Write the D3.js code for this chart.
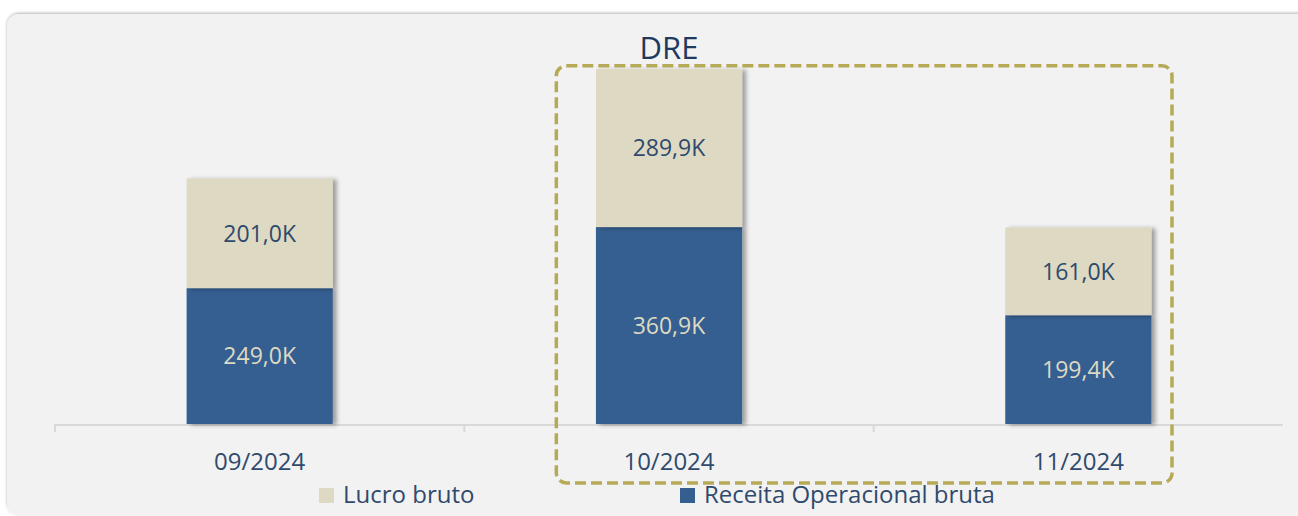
<!DOCTYPE html>
<html>
<head>
<meta charset="utf-8">
<script src="https://cdn.jsdelivr.net/npm/d3@7"></script>
<style>
  html, body { margin: 0; padding: 0; background: #ffffff; }
  svg { display: block; font-family: 'Open Sans', sans-serif; }
</style>
</head>
<body>
<svg id="chart" width="1298" height="516"></svg>
<script>
// Chart data
const categories = ['09/2024', '10/2024', '11/2024'];
const receitaBruta = [249.0, 360.9, 199.4];
const lucroBruto = [201.0, 289.9, 161.0];
const seriesNames = ['Lucro bruto', 'Receita Operacional bruta'];
const highlighted = ['10/2024', '11/2024'];

const color = {
  panel: '#f2f2f2',
  blue: '#365f91',
  tan: '#ddd9c3',
  text: '#2f4a6d',
  title: '#1f3a60',
  axis: '#d9d9d9',
  dash: '#b6a957'
};

const width = 1298;
const height = 516;
const plot = { left: 55, right: 1283, top: 42, bottom: 424 };

const svg = d3.select('#chart');
const defs = svg.append('defs');

// Soft shadow on the right of each bar
defs.append('filter')
  .attr('id', 'barShadow')
  .attr('x', '-10%').attr('y', '-10%').attr('width', '130%').attr('height', '120%')
  .append('feDropShadow')
  .attr('dx', 4).attr('dy', 1).attr('stdDeviation', 2.2)
  .attr('flood-color', '#000').attr('flood-opacity', 0.35);

defs.append('filter')
  .attr('id', 'panelShadow')
  .attr('x', '-5%').attr('y', '-5%').attr('width', '110%').attr('height', '110%')
  .append('feDropShadow')
  .attr('dx', 0).attr('dy', -1).attr('stdDeviation', 1.5)
  .attr('flood-color', '#000').attr('flood-opacity', 0.3);

// Background panel
svg.append('rect')
  .attr('x', 7).attr('y', 14)
  .attr('width', width + 20).attr('height', height - 15)
  .attr('rx', 12)
  .attr('fill', color.panel)
  .attr('filter', 'url(#panelShadow)');

const x = d3.scaleBand()
  .domain(categories)
  .range([plot.left, plot.right]);

const barWidth = x.bandwidth() * 0.357;

const y = d3.scaleLinear()
  .domain([0, 700])
  .range([plot.bottom, plot.top]);

const locale = d3.formatLocale({ decimal: ',', thousands: '.', grouping: [3], currency: ['R$', ''] });
const fmt = d => locale.format('.1f')(d) + 'K';

// Stack: receita at the bottom, lucro on top
const rows = categories.map((c, i) => ({ cat: c, receita: receitaBruta[i], lucro: lucroBruto[i] }));
const stack = d3.stack().keys(['receita', 'lucro'])(rows);
const fills = { receita: color.blue, lucro: color.tan };
const labelFills = { receita: color.tan, lucro: color.text };

// Axis line and ticks
const axis = svg.append('g').attr('class', 'axis x');
axis.append('line')
  .attr('x1', plot.left).attr('x2', plot.right)
  .attr('y1', plot.bottom + 1).attr('y2', plot.bottom + 1)
  .attr('stroke', color.axis).attr('stroke-width', 2);

const boundaries = categories.map(c => x(c));
axis.selectAll('line.tick')
  .data(boundaries)
  .join('line')
  .attr('class', 'tick')
  .attr('x1', d => d).attr('x2', d => d)
  .attr('y1', plot.bottom).attr('y2', plot.bottom + 8)
  .attr('stroke', color.axis).attr('stroke-width', 2);

axis.selectAll('text')
  .data(categories)
  .join('text')
  .attr('x', d => x(d) + x.bandwidth() / 2)
  .attr('y', plot.bottom + 46)
  .attr('text-anchor', 'middle')
  .attr('font-size', 24)
  .attr('fill', color.text)
  .text(d => d);

// Bars
const layers = svg.append('g').attr('class', 'bars');
stack.forEach(layer => {
  const key = layer.key;
  const g = layers.append('g').attr('class', 'layer ' + key);

  g.selectAll('rect')
    .data(layer)
    .join('rect')
    .attr('x', d => x(d.data.cat) + (x.bandwidth() - barWidth) / 2)
    .attr('y', d => y(d[1]))
    .attr('width', barWidth)
    .attr('height', d => y(d[0]) - y(d[1]))
    .attr('fill', fills[key])
    .attr('filter', 'url(#barShadow)');
});

// Labels drawn after all bars so shadows do not cover them
stack.forEach(layer => {
  const key = layer.key;
  layers.append('g').selectAll('text')
    .data(layer)
    .join('text')
    .attr('x', d => x(d.data.cat) + x.bandwidth() / 2)
    .attr('y', d => (y(d[0]) + y(d[1])) / 2)
    .attr('dy', '0.36em')
    .attr('text-anchor', 'middle')
    .attr('font-size', 23)
    .attr('fill', labelFills[key])
    .text(d => fmt(d.data[key]));
});

// Title
svg.append('text')
  .attr('x', x('10/2024') + x.bandwidth() / 2)
  .attr('y', 59)
  .attr('text-anchor', 'middle')
  .attr('font-size', 31)
  .attr('fill', color.title)
  .text('DRE');

// Dashed highlight box round the last two months
const maxTotal = d3.max(rows, d => d.receita + d.lucro);
const hx0 = x(highlighted[0]) + 92;
const hx1 = x(highlighted[highlighted.length - 1]) + x.bandwidth() - 111;
svg.append('rect')
  .attr('x', hx0)
  .attr('y', y(maxTotal) - 3)
  .attr('width', hx1 - hx0)
  .attr('height', 483 - (y(maxTotal) - 3))
  .attr('rx', 10)
  .attr('fill', 'none')
  .attr('stroke', color.dash)
  .attr('stroke-width', 3.5)
  .attr('stroke-dasharray', '11 5');

// Legend
const legendItems = [
  { name: seriesNames[0], fill: color.tan, x: 319 },
  { name: seriesNames[1], fill: color.blue, x: 680 }
];
const legend = svg.append('g').attr('class', 'legend');
const item = legend.selectAll('g')
  .data(legendItems)
  .join('g')
  .attr('transform', d => `translate(${d.x}, 488)`);
item.append('rect')
  .attr('width', 15).attr('height', 15)
  .attr('fill', d => d.fill);
item.append('text')
  .attr('x', 24)
  .attr('y', 15)
  .attr('font-size', 24)
  .attr('fill', color.text)
  .text(d => d.name);
</script>
</body>
</html>
